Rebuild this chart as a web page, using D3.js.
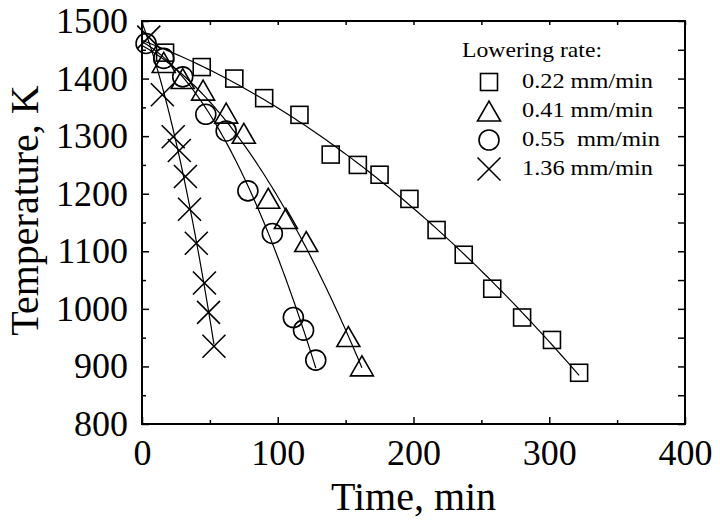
<!DOCTYPE html>
<html><head><meta charset="utf-8">
<script src="https://cdn.jsdelivr.net/npm/d3@7"></script>
<style>
body{margin:0;background:#fff}
svg{display:block}
text{font-family:"Liberation Serif","Times New Roman",serif;fill:#000}
</style>
</head><body>
<svg id="c" width="720" height="521"></svg>
<script>
// ---- data ----
const legendTitle = "Lowering rate:";
const seriesNames = ["0.22 mm/min", "0.41 mm/min", "0.55  mm/min", "1.36 mm/min"];
const seriesSymbols = ["square", "triangle", "circle", "cross"];
const timeSq  = [17, 44, 68, 90, 116, 139, 159, 175, 197, 217, 237, 258, 280, 302, 322];
const tempSq  = [1445, 1420, 1400, 1366, 1337, 1268, 1250, 1233, 1191, 1137, 1094, 1035, 985, 946, 889];
const timeTri = [16, 30, 45, 62, 75, 93, 106, 121, 152, 162];
const tempTri = [1428, 1400, 1380, 1340, 1305, 1192, 1157, 1117, 952, 901];
const timeCir = [3, 16, 30, 47, 62, 78, 96, 111.5, 119, 128];
const tempCir = [1461, 1435, 1403, 1338, 1309, 1205, 1131, 985, 963, 911];
const timeX   = [5, 15, 23, 27.5, 32, 35, 40, 46, 49, 53];
const tempX   = [1472, 1372, 1299, 1275, 1230, 1173, 1114, 1045, 994, 935];
const xTicks = [0, 100, 200, 300, 400];
const xMinor = [50, 150, 250, 350];
const yTicks = [800, 900, 1000, 1100, 1200, 1300, 1400, 1500];
const yMinor = [850, 950, 1050, 1150, 1250, 1350, 1450];
const xTitle = "Time, min";
const yTitle = "Temperature, K";

const series = [
  {t: timeSq, T: tempSq},
  {t: timeTri, T: tempTri},
  {t: timeCir, T: tempCir},
  {t: timeX, T: tempX}
].map((s, i) => ({...s, name: seriesNames[i], sym: seriesSymbols[i]}));

// ---- layout ----
const L = 142, R = 685, Tp = 21, B = 424;
const svg = d3.select("#c");
const x = d3.scaleLinear().domain([0, 400]).range([L, R]);
const y = d3.scaleLinear().domain([800, 1500]).range([B, Tp]);

// quadratic least-squares fit of each series (regression curve)
function quadFit(ts, Ts) {
  let S = [0,0,0,0,0], V = [0,0,0];
  ts.forEach((t, i) => {
    let p = 1;
    for (let k = 0; k < 5; k++) { S[k] += p; if (k < 3) V[k] += p * Ts[i]; p *= t; }
  });
  const A = [[S[0],S[1],S[2],V[0]],[S[1],S[2],S[3],V[1]],[S[2],S[3],S[4],V[2]]];
  for (let c = 0; c < 3; c++) {
    for (let r = c + 1; r < 3; r++) {
      const f = A[r][c] / A[c][c];
      for (let k = c; k < 4; k++) A[r][k] -= f * A[c][k];
    }
  }
  const co = [0,0,0];
  for (let r = 2; r >= 0; r--) {
    let s = A[r][3];
    for (let k = r + 1; k < 3; k++) s -= A[r][k] * co[k];
    co[r] = s / A[r][r];
  }
  return t => co[0] + co[1] * t + co[2] * t * t;
}

// axes (ticks inward)
function addAxis(axis, tr) {
  const g = svg.append("g").attr("transform", tr).call(axis);
  g.select(".domain").remove();
  g.selectAll(".tick line").attr("stroke", "#000").attr("stroke-width", 1.5);
  return g;
}
const gx = addAxis(d3.axisBottom(x).tickValues(xTicks).tickSize(-7).tickPadding(15).tickFormat(d3.format("d")), `translate(0,${B})`);
gx.selectAll("text").attr("font-size", 36).attr("font-family", "Liberation Serif");
addAxis(d3.axisBottom(x).tickValues(xMinor).tickSize(-4).tickFormat(""), `translate(0,${B})`);
addAxis(d3.axisTop(x).tickValues(xTicks.concat(xMinor)).tickSize(-4).tickFormat(""), `translate(0,${Tp})`);
const gy = addAxis(d3.axisLeft(y).tickValues(yTicks).tickSize(-7).tickPadding(14).tickFormat(d3.format("d")), `translate(${L},0)`);
gy.selectAll("text").attr("font-size", 36).attr("font-family", "Liberation Serif");
addAxis(d3.axisLeft(y).tickValues(yMinor).tickSize(-4).tickFormat(""), `translate(${L},0)`);
addAxis(d3.axisRight(y).tickValues(yTicks.concat(yMinor)).tickSize(-7).tickFormat(""), `translate(${R},0)`);

svg.append("rect").attr("x", L).attr("y", Tp).attr("width", R - L).attr("height", B - Tp)
  .attr("fill", "none").attr("stroke", "#000").attr("stroke-width", 2);

// fit curves
const line = d3.line().x(d => x(d[0])).y(d => y(d[1]));
series.forEach(s => {
  const f = quadFit(s.t, s.T);
  const tmax = d3.max(s.t);
  const pts = d3.range(0, 101).map(i => { const t = tmax * i / 100; return [t, f(t)]; });
  svg.append("path").attr("d", line(pts)).attr("fill", "none").attr("stroke", "#000").attr("stroke-width", 1.2);
});

// markers
function drawMarker(g, sym, cx, cy) {
  const st = {fill: "none", stroke: "#000", "stroke-width": 1.6};
  let el;
  if (sym === "square") {
    el = g.append("rect").attr("x", cx - 8.5).attr("y", cy - 8.5).attr("width", 17).attr("height", 17);
  } else if (sym === "triangle") {
    el = g.append("path").attr("d", `M${cx - 11.5},${cy + 10}L${cx + 11.5},${cy + 10}L${cx},${cy - 10}Z`);
  } else if (sym === "circle") {
    el = g.append("circle").attr("cx", cx).attr("cy", cy).attr("r", 10);
  } else {
    el = g.append("path").attr("d", `M${cx - 11.5},${cy - 11.5}L${cx + 11.5},${cy + 11.5}M${cx - 11.5},${cy + 11.5}L${cx + 11.5},${cy - 11.5}`);
  }
  Object.entries(st).forEach(([k, v]) => el.attr(k, v));
}
const gm = svg.append("g");
series.forEach(s => s.t.forEach((t, i) => drawMarker(gm, s.sym, x(t), y(s.T[i]))));

// legend
const lg = svg.append("g");
lg.append("text").attr("x", 462).attr("y", 57).attr("font-size", 21)
  .attr("textLength", 140).attr("lengthAdjust", "spacingAndGlyphs").text(legendTitle);
const textLens = [131, 131, 138, 131];
series.forEach((s, i) => {
  const cy = 82 + i * 29;
  drawMarker(lg, s.sym, 489, cy);
  lg.append("text").attr("x", 522).attr("y", cy + 6).attr("font-size", 21)
    .attr("textLength", textLens[i]).attr("lengthAdjust", "spacingAndGlyphs")
    .style("white-space", "pre").text(s.name);
});

// axis titles
svg.append("text").attr("x", (L + R) / 2).attr("y", 510).attr("text-anchor", "middle")
  .attr("font-size", 40).text(xTitle);
svg.append("text").attr("transform", `translate(38,${(Tp + B) / 2 - 12}) rotate(-90)`)
  .attr("text-anchor", "middle").attr("font-size", 40).text(yTitle);
</script>
</body></html>
